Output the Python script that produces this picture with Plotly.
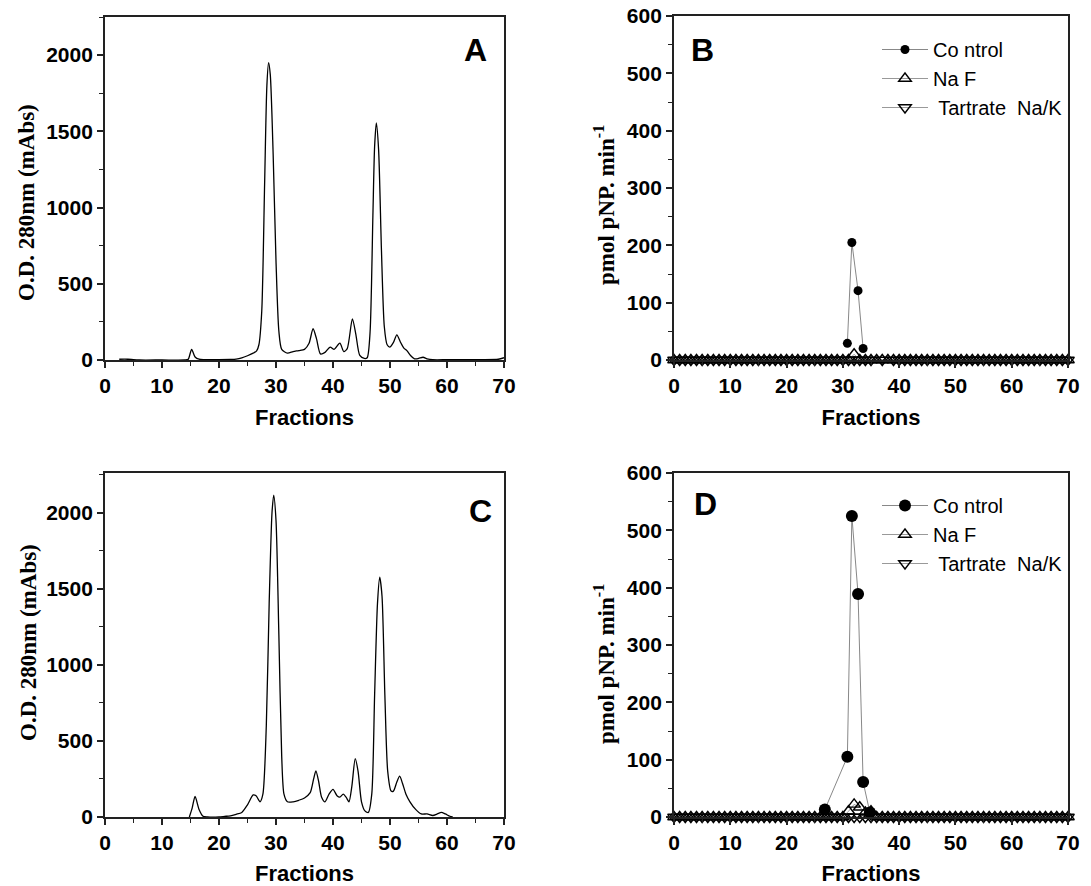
import plotly.graph_objects as go

# ---------- Panel A chromatogram ----------
frac_A = [2.5, 4, 5, 6, 10, 14, 14.6, 15.2, 15.8, 16.5, 17.5, 20, 22, 23, 24, 25, 26, 26.6, 27.0, 27.5, 28.0, 28.4, 28.7,
          29.0, 29.5, 30.0, 30.5, 31.0, 32, 33, 34, 35, 35.8, 36.5, 37.1, 37.8, 38.6, 39.5, 40.2, 41.2, 41.9, 42.5,
          43.4, 44.0, 44.7, 45.5, 46.0, 46.5, 47.0, 47.3, 47.6, 48.0, 48.5, 49.0, 49.5, 50.0, 50.6, 51.2, 51.8,
          52.4, 53.0, 53.6, 54.3, 55.0, 55.8, 56.5, 57.5, 60, 65, 69, 70]
od_A = [5, 5, 2, 0, 0, 0, 5, 70, 20, 5, 3, 3, 4, 6, 14, 28, 45, 60, 100, 320, 1150, 1800, 1950,
        1870, 1350, 650, 190, 70, 45, 55, 62, 70, 110, 205, 140, 40, 50, 85, 70, 110, 55, 75,
        270, 170, 30, 10, 15, 180, 950, 1400, 1555, 1380, 720, 220, 100, 85, 115, 165, 120,
        80, 60, 30, 8, 10, 18, 8, 2, 2, 3, 5, 15]

# ---------- Panel C chromatogram ----------
frac_C = [14.8, 15.3, 15.8, 16.5, 17.2, 18, 20, 21, 22, 23, 24, 25, 26, 26.5, 27.2, 27.7, 28.3, 28.8, 29.3, 29.6,
          30.0, 30.5, 31.0, 31.4, 32, 33, 34, 35, 36, 36.6, 37.0, 37.5, 38.0, 38.6, 39.3, 40.0, 40.7, 41.2,
          41.8, 42.3, 42.8, 43.3, 43.9, 44.4, 45.0, 45.6, 46.2, 46.8, 47.3, 47.8, 48.2, 48.6, 49.1, 49.6,
          50.2, 50.6, 51.2, 51.7, 52.2, 52.8, 53.5, 54.5, 55.5, 56.5, 57.5, 58.3, 59.0, 59.7, 60.5, 61]
od_C = [0, 60, 135, 50, 5, 0, 0, 4, 8, 18, 30, 80, 145, 140, 100, 150, 600, 1400, 2000, 2115,
        1950, 1200, 400, 150, 100, 100, 110, 125, 160, 250, 303, 230, 130, 100, 150, 182, 140, 130,
        150, 130, 100, 200, 384, 300, 100, 40, 30, 150, 800, 1400, 1575, 1450, 800, 300,
        170, 170, 230, 268, 220, 150, 100, 50, 20, 20, 10, 20, 30, 20, 5, 0]

# ---------- Panel B activity ----------
fractions_all = list(range(0, 71))
ctrl_B_x = [30.8, 31.6, 32.7, 33.6]
ctrl_B_y = [29, 205, 121, 20]
naf_B = [0] * 71
naf_B[32] = 10
tart_B = [0] * 71
tart_B[36] = -4
tart_B[38] = -4

# ---------- Panel D activity ----------
ctrl_D_x = [26.8, 30.8, 31.6, 32.7, 33.6, 34.8]
ctrl_D_y = [13, 105, 525, 389, 61, 8]
naf_D = [0] * 71
naf_D[31] = 10
naf_D[32] = 22
naf_D[33] = 17
naf_D[34] = 8
naf_D[35] = 10
tart_D = [0] * 71

ticks_x = [0, 10, 20, 30, 40, 50, 60, 70]
ticks_od = [0, 500, 1000, 1500, 2000]
ticks_act = [0, 100, 200, 300, 400, 500, 600]

W, H = 1091, 886


def px_x(a, b):
    return [a / W, b / W]


def px_y(top, bot):
    return [1 - bot / H, 1 - top / H]


def fx(a):
    return a / W


def fy(b):
    return 1 - b / H


fig = go.Figure()

SANS = "Arial, Liberation Sans, sans-serif"
SERIF = "Times New Roman, Liberation Serif, serif"
AXCOL = "#222222"

fig.add_trace(go.Scatter(x=frac_A, y=od_A, mode="lines",
                         line=dict(color="black", width=1.3, shape="spline", smoothing=0.7),
                         showlegend=False, xaxis="x", yaxis="y"))
fig.add_trace(go.Scatter(x=frac_C, y=od_C, mode="lines",
                         line=dict(color="black", width=1.3, shape="spline", smoothing=0.7),
                         showlegend=False, xaxis="x3", yaxis="y3"))


def add_activity(xa, ya, cx, cy, naf, tart, legend, csize):
    fig.add_trace(go.Scatter(x=fractions_all, y=tart, mode="lines+markers", name=" Tartrate  Na/K",
                             line=dict(color="#999999", width=1),
                             marker=dict(symbol="triangle-down-open", size=11, color="black", line=dict(width=1.4)),
                             xaxis=xa, yaxis=ya, legend=legend, cliponaxis=False, legendrank=3))
    fig.add_trace(go.Scatter(x=fractions_all, y=naf, mode="lines+markers", name="Na F",
                             line=dict(color="#999999", width=1),
                             marker=dict(symbol="triangle-up-open", size=11, color="black", line=dict(width=1.4)),
                             xaxis=xa, yaxis=ya, legend=legend, cliponaxis=False, legendrank=2))
    fig.add_trace(go.Scatter(x=cx, y=cy, mode="lines+markers", name="Co ntrol",
                             line=dict(color="#888888", width=1),
                             marker=dict(symbol="circle", size=csize, color="black"),
                             xaxis=xa, yaxis=ya, legend=legend, cliponaxis=False, legendrank=1))


add_activity("x2", "y2", ctrl_B_x, ctrl_B_y, naf_B, tart_B, "legend", 9)
add_activity("x4", "y4", ctrl_D_x, ctrl_D_y, naf_D, tart_D, "legend2", 12)

tickfont = dict(family=SANS, size=21, color="black", weight="bold")


def xaxis(dom, anchor):
    return dict(domain=dom, anchor=anchor, range=[0, 70], tickvals=ticks_x, ticks="outside", ticklen=6, tickwidth=1.5,
                tickcolor=AXCOL, showline=True, linecolor=AXCOL, linewidth=1.8, mirror=True, showgrid=False,
                zeroline=False, tickfont=tickfont, automargin=False, ticklabeloverflow="allow",
                minor=dict(dtick=5, tick0=0, ticks="outside", ticklen=4, tickwidth=1.2, tickcolor=AXCOL, showgrid=False),
                title=dict(text="Fractions", font=dict(family=SANS, size=22, color="black", weight="bold"), standoff=14))


def yaxis(dom, anchor, rng, tv, minor_dt):
    return dict(domain=dom, anchor=anchor, range=rng, tickvals=tv, ticks="outside", ticklen=6, tickwidth=1.5,
                tickcolor=AXCOL, showline=True, linecolor=AXCOL, linewidth=1.8, mirror=True, showgrid=False,
                zeroline=False, tickfont=tickfont, automargin=False, ticklabeloverflow="allow",
                minor=dict(dtick=minor_dt, tick0=0, ticks="outside", ticklen=4, tickwidth=1.2, tickcolor=AXCOL,
                           showgrid=False))


od_title = "O.D. 280nm (mAbs)"
act_title = "pmol pNP. min<sup>-1</sup>"

legend_style = dict(xanchor="left", yanchor="top", bgcolor="rgba(0,0,0,0)", itemwidth=46,
                    font=dict(family=SANS, size=20, color="black"), tracegroupgap=0, traceorder="normal")

fig.update_layout(
    width=W, height=H, margin=dict(l=0, r=0, t=0, b=0),
    paper_bgcolor="white", plot_bgcolor="white",
    xaxis=xaxis(px_x(105, 504), "y"),
    yaxis=yaxis(px_y(17, 360), "x", [0, 2250], ticks_od, 250),
    xaxis2=xaxis(px_x(674, 1068), "y2"),
    yaxis2=yaxis(px_y(16, 360), "x2", [0, 600], ticks_act, 50),
    xaxis3=xaxis(px_x(105, 504), "y3"),
    yaxis3=yaxis(px_y(473, 817), "x3", [0, 2260], ticks_od, 250),
    xaxis4=xaxis(px_x(674, 1068), "y4"),
    yaxis4=yaxis(px_y(473, 817), "x4", [0, 600], ticks_act, 50),
    legend=dict(x=fx(877), y=fy(30), **legend_style),
    legend2=dict(x=fx(877), y=fy(486), **legend_style),
)

# y-axis titles (rotated annotations to match reference positions)
ytitles = [(od_title, 26, 203), (act_title, 604, 205), (od_title, 28, 643), (act_title, 604, 664)]
for t, xp, yp in ytitles:
    fig.add_annotation(text=t, x=fx(xp), y=fy(yp), xref="paper", yref="paper", showarrow=False, textangle=-90,
                       font=dict(family=SERIF, size=23, color="black", weight="bold"),
                       xanchor="center", yanchor="middle")

letters = [("A", 475, 50), ("B", 702, 50), ("C", 480, 511), ("D", 705, 504)]
for t, xp, yp in letters:
    fig.add_annotation(text=t, x=fx(xp), y=fy(yp), xref="paper", yref="paper", showarrow=False,
                       font=dict(family=SANS, size=32, color="black", weight="bold"),
                       xanchor="center", yanchor="middle")

fig.write_html("out.html", config={"displayModeBar": False},
               post_script="document.body.style.margin='0';")
